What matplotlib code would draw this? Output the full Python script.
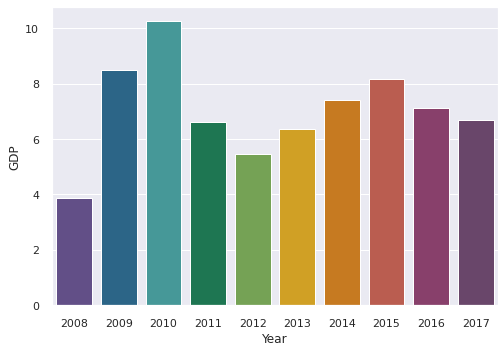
import matplotlib
matplotlib.use("Agg")
import matplotlib.pyplot as plt
import seaborn as sns
import pandas as pd

years = ["2008", "2009", "2010", "2011", "2012", "2013", "2014", "2015", "2016", "2017"]
gdp = [3.87, 8.49, 10.25, 6.61, 5.46, 6.37, 7.42, 8.16, 7.12, 6.68]
colors = ["#5F4690", "#1D6996", "#38A6A5", "#0F8554", "#73AF48",
          "#EDAD08", "#E17C05", "#CC503E", "#94346E", "#6F4070"]

sns.set_theme()
df = pd.DataFrame({"Year": years, "GDP": gdp})

fig = plt.figure(figsize=(7, 4.9), dpi=72)
ax = fig.add_axes([52 / 504, 1 - 306 / 353, 446 / 504, 298 / 353])
sns.barplot(data=df, x="Year", y="GDP", hue="Year", palette=colors,
            saturation=0.75, legend=False, ax=ax)
ax.tick_params(pad=7)

fig.savefig("out.png", dpi=72)
